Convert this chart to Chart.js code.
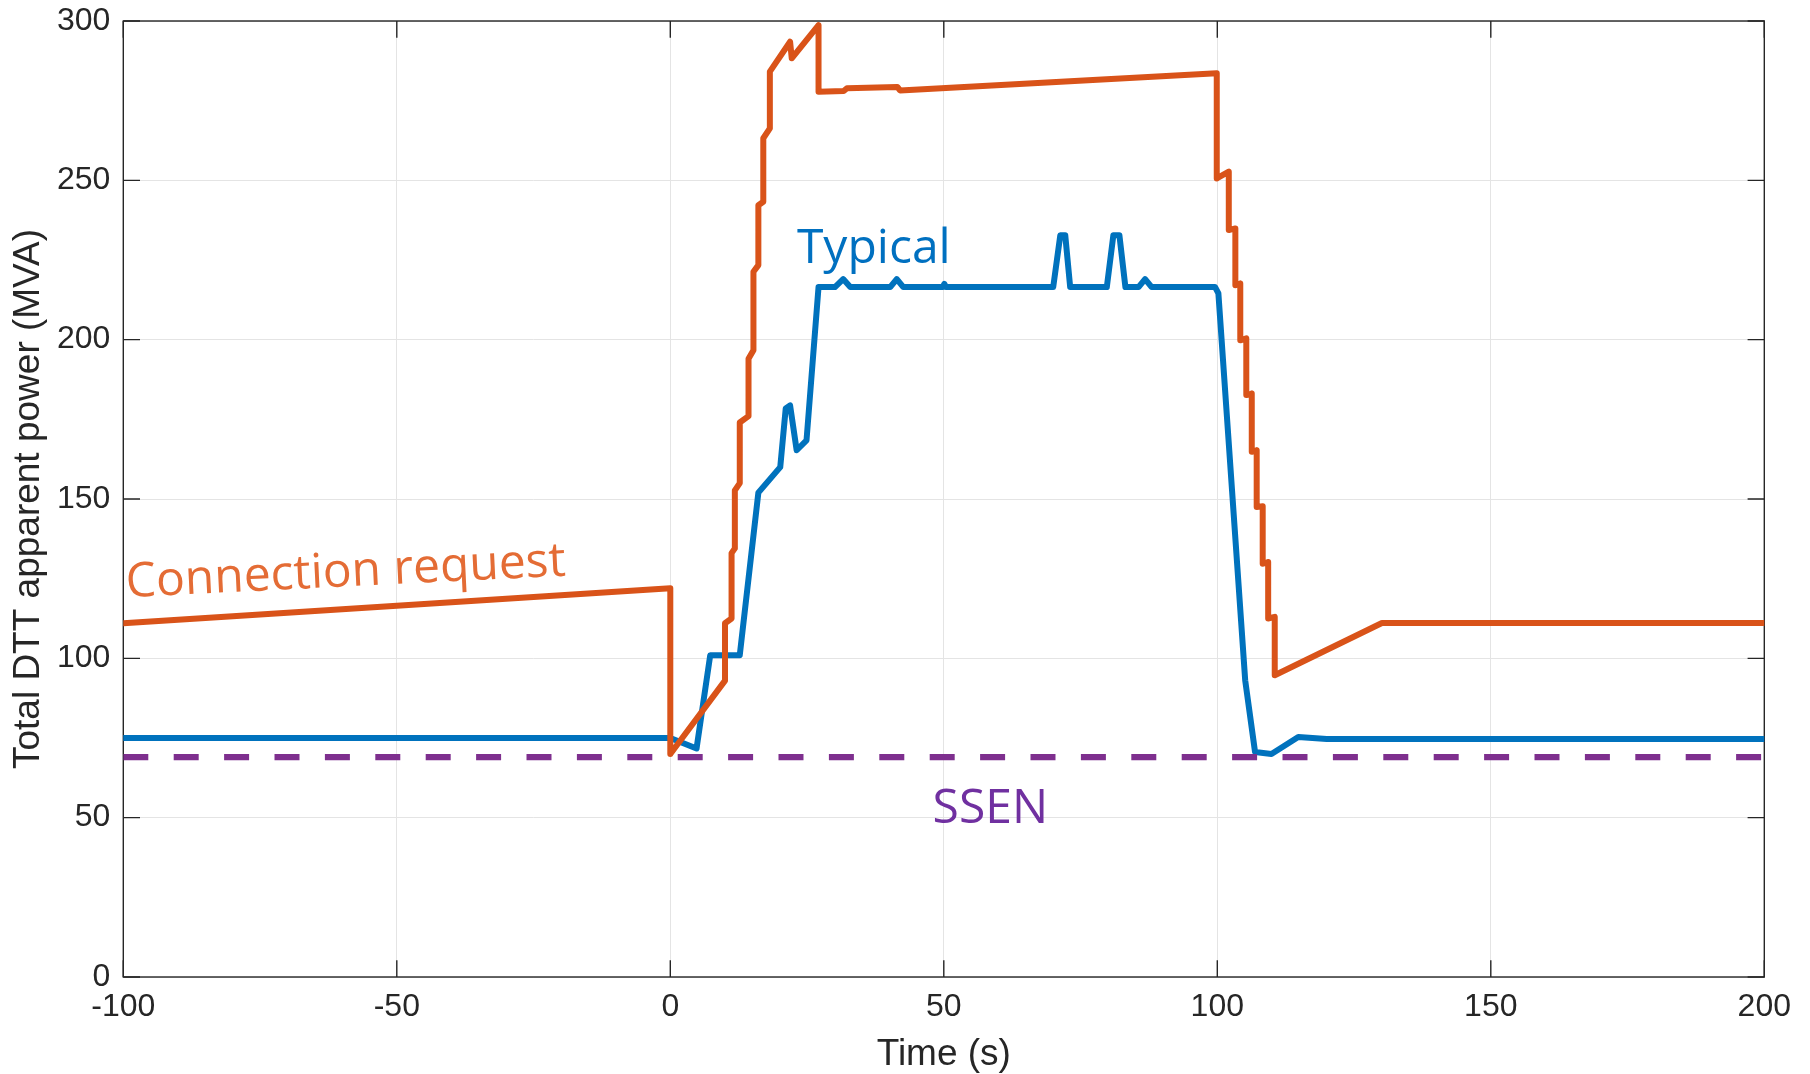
<!DOCTYPE html>
<html>
<head>
<meta charset="utf-8">
<script src="https://cdn.jsdelivr.net/npm/chart.js@4.4.0/dist/chart.umd.min.js"></script>
<style>
  html, body { margin: 0; padding: 0; background: #fff; }
  #wrap { width: 1810px; height: 1074px; position: relative; }
</style>
</head>
<body>
<div id="wrap"><canvas id="powerChart"></canvas></div>
<script>
// time (s) / total DTT apparent power (MVA)
let typicalTime = [-100, 0, 4.8, 7.3, 12.7, 16.1, 20.1, 21.1, 21.9, 23.1, 24.9, 27.1, 30.1, 31.6, 32.9,
  40.2, 41.4, 42.6, 49.8, 50.1, 50.4, 70.0, 71.3, 72.2, 73.1, 79.8, 81.0, 82.1, 83.2, 85.6, 86.8, 88.0,
  99.6, 100.2, 105.1, 106.9, 109.9, 114.8, 120.0, 200];
let typicalPower = [75, 75, 71.7, 101, 101, 152, 160, 178.4, 179.4, 165.3, 168.4, 216.5, 216.5, 219, 216.5,
  216.5, 219, 216.5, 216.5, 217.5, 216.5, 216.5, 232.8, 232.8, 216.5, 216.5, 232.8, 232.8, 216.5, 216.5, 219, 216.5,
  216.5, 214.5, 93.1, 70.6, 70, 75.3, 74.7, 74.7];

let requestTime = [-100, 0, 0, 10, 10, 11.2, 11.2, 11.8, 11.8, 12.7, 12.7, 14.3, 14.3, 15.2, 15.2,
  16.1, 16.1, 17.0, 17.0, 18.2, 18.2, 21.9, 22.2, 27.1, 27.1, 31.7, 32.3, 41.5, 42.0,
  99.9, 99.9, 102.1, 102.1, 103.3, 103.3, 104.2, 104.2, 105.3, 105.3, 106.3, 106.3, 107.2, 107.2,
  108.3, 108.3, 109.3, 109.3, 110.5, 110.5, 130.1, 200];
let requestPower = [111, 122, 70, 93, 111, 112.5, 133, 134.5, 152.7, 155, 174, 176, 194, 196.7, 221.3,
  223.4, 242.2, 243.3, 263.2, 266.3, 284.1, 293.5, 288.3, 298.7, 277.8, 278, 278.9, 279.3, 278.2,
  283.6, 250.6, 252.7, 234.4, 234.9, 217.1, 217.6, 199.8, 200.4, 182.6, 183.1, 164.8, 165.3, 147.5,
  147.7, 129.7, 130.2, 112.5, 113, 94.7, 111.1, 111.1];

let ssenTime = [-100, 200];
let ssenPower = [69, 69];

let xTicks = [-100, -50, 0, 50, 100, 150, 200];
let yTicks = [0, 50, 100, 150, 200, 250, 300];

// text next to the curves, anchored at data coordinates (left end of the baseline)
let curveLabels = [
  { text: "Connection request", t: -99.4, p: 119.2, color: "#E46C35", angle: -2.8 },
  { text: "Typical", t: 23.15, p: 224.0, color: "#0070C0", angle: 0 },
  { text: "SSEN", t: 47.95, p: 48.35, color: "#7030A0", angle: 0 },
];

let toPoints = (ts, vs) => ts.map((t, i) => ({ x: t, y: vs[i] }));

const axisColor = "#262626";
const tickFont = { family: "'Liberation Sans', Arial, sans-serif", size: 32 };
const titleFont = { family: "'Liberation Sans', Arial, sans-serif", size: 37, lineHeight: 1 };

// MATLAB style box with inward tick marks
const axesBox = {
  id: "axesBox",
  beforeDatasetsDraw(chart) {
    const { ctx, chartArea: a, scales } = chart;
    const len = 16.7;
    ctx.save();
    ctx.strokeStyle = axisColor;
    ctx.lineWidth = 1.4;
    ctx.beginPath();
    xTicks.forEach((v) => {
      let px = scales.x.getPixelForValue(v);
      ctx.moveTo(px, a.bottom);
      ctx.lineTo(px, a.bottom - len);
      ctx.moveTo(px, a.top);
      ctx.lineTo(px, a.top + len);
    });
    yTicks.forEach((v) => {
      let py = scales.y.getPixelForValue(v);
      ctx.moveTo(a.left, py);
      ctx.lineTo(a.left + len, py);
      ctx.moveTo(a.right, py);
      ctx.lineTo(a.right - len, py);
    });
    ctx.stroke();
    ctx.strokeRect(a.left, a.top, a.right - a.left, a.bottom - a.top);
    ctx.restore();
  },
};

const curveText = {
  id: "curveText",
  afterDatasetsDraw(chart) {
    const { ctx, scales } = chart;
    ctx.save();
    ctx.font = "48px 'Open Sans', sans-serif";
    ctx.textAlign = "left";
    ctx.textBaseline = "alphabetic";
    curveLabels.forEach((l) => {
      ctx.save();
      ctx.translate(scales.x.getPixelForValue(l.t), scales.y.getPixelForValue(l.p));
      ctx.rotate((l.angle * Math.PI) / 180);
      ctx.fillStyle = l.color;
      ctx.fillText(l.text, 0, 0);
      ctx.restore();
    });
    ctx.restore();
  },
};

const powerChart = document.getElementById("powerChart").getContext("2d");
const powerChartValue = new Chart(powerChart, {
  type: "line",
  data: {
    datasets: [
      {
        label: "SSEN",
        data: toPoints(ssenTime, ssenPower),
        borderColor: "#7E2F8E",
        borderWidth: 6.3,
        borderDash: [25, 25.4],
        borderCapStyle: "butt",
        order: 0,
      },
      {
        label: "Connection request",
        data: toPoints(requestTime, requestPower),
        borderColor: "#D95319",
        borderWidth: 6,
        order: 1,
      },
      {
        label: "Typical",
        data: toPoints(typicalTime, typicalPower),
        borderColor: "#0072BD",
        borderWidth: 6,
        order: 2,
      },
    ],
  },
  options: {
    responsive: true,
    maintainAspectRatio: false,
    animation: false,
    elements: {
      point: { radius: 0, hoverRadius: 0 },
      line: { tension: 0, borderJoinStyle: "round", borderCapStyle: "round" },
    },
    layout: { padding: { top: 21, right: 45.7, left: 0, bottom: 0 } },
    plugins: {
      legend: { display: false },
      tooltip: { enabled: false },
    },
    scales: {
      x: {
        type: "linear",
        min: -100,
        max: 200,
        afterBuildTicks: (s) => {
          s.ticks = xTicks.map((v) => ({ value: v }));
        },
        afterFit: (s) => {
          s.height = 97;
          s.paddingLeft = 0;
          s.paddingRight = 0;
        },
        grid: { color: "#e4e4e4", lineWidth: 1, drawTicks: false },
        border: { display: false },
        ticks: { font: tickFont, color: axisColor, padding: 11, maxRotation: 0, autoSkip: false },
        title: { display: true, text: "Time (s)", font: titleFont, color: axisColor, padding: { top: 0, bottom: 1 } },
      },
      y: {
        type: "linear",
        min: 0,
        max: 300,
        afterBuildTicks: (s) => {
          s.ticks = yTicks.map((v) => ({ value: v }));
        },
        afterFit: (s) => {
          s.width = 123.3;
          s.paddingTop = 0;
          s.paddingBottom = 0;
        },
        grid: { color: "#e4e4e4", lineWidth: 1, drawTicks: false },
        border: { display: false },
        ticks: { font: tickFont, color: axisColor, padding: 13, autoSkip: false },
        title: {
          display: true,
          text: "Total DTT apparent power (MVA)",
          font: titleFont,
          color: axisColor,
          padding: { top: 10, bottom: 0 },
        },
      },
    },
  },
  plugins: [axesBox, curveText],
});
</script>
</body>
</html>
